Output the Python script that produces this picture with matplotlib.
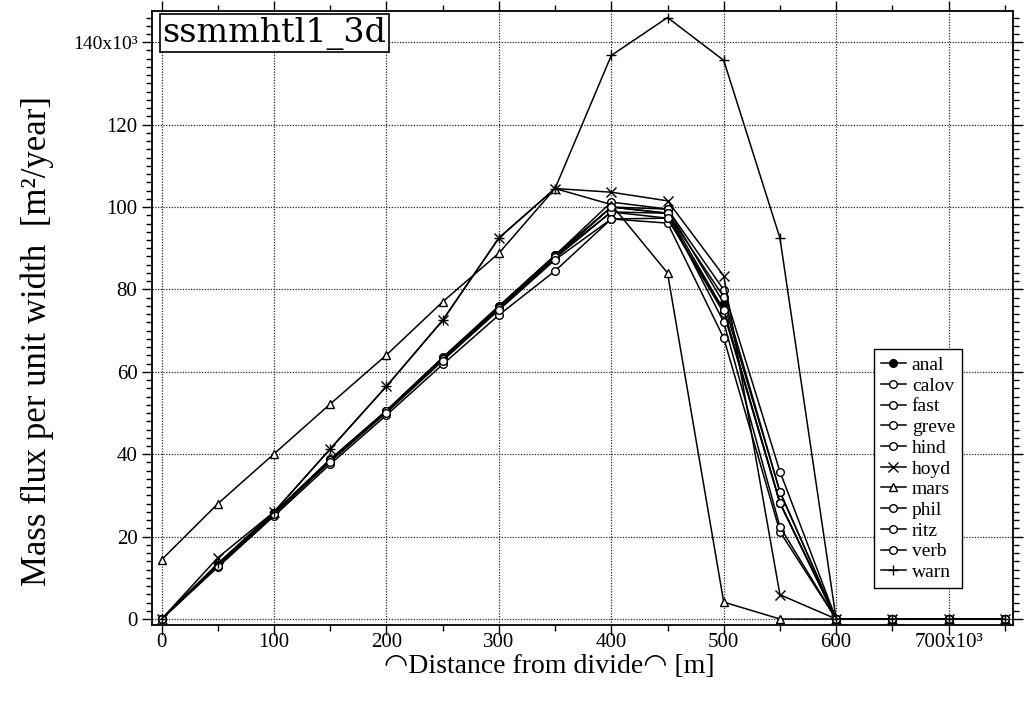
import matplotlib
matplotlib.use("Agg")
import matplotlib.pyplot as plt
from matplotlib.ticker import MultipleLocator

plt.rcParams['font.family'] = ['Liberation Serif', 'DejaVu Sans']

# distance from divide, in units of 10^3 m
distance = [0, 50, 100, 150, 200, 250, 300, 350, 400, 450, 500, 550, 600, 650, 700, 750]

# mass flux per unit width, in units of 10^3 m^2/year
anal  = [0, 13.2, 25.8, 38.7, 50.6, 63.4, 75.8, 88.3, 100.0, 99.5, 76.7, 30.9, 0, 0, 0, 0]
calov = [0, 13.0, 25.6, 38.5, 50.4, 63.2, 75.5, 88.0, 98.8, 98.5, 75.0, 28.2, 0, 0, 0, 0]
fast  = [0, 13.2, 25.8, 38.8, 50.6, 63.5, 76.0, 88.3, 101.2, 99.5, 79.9, 35.8, 0, 0, 0, 0]
greve = [0, 13.1, 25.7, 38.6, 50.5, 63.3, 75.7, 88.1, 100.0, 98.5, 78.2, 30.9, 0, 0, 0, 0]
hind  = [0, 12.6, 25.0, 37.6, 49.5, 61.8, 73.8, 84.5, 97.1, 96.1, 68.2, 21.2, 0, 0, 0, 0]
hoyd  = [0, 14.9, 26.0, 41.3, 56.5, 72.5, 92.5, 104.5, 103.6, 101.5, 83.3, 5.9, 0, 0, 0, 0]
mars  = [14.4, 28.0, 40.1, 52.2, 64.1, 77.0, 88.8, 104.5, 100.6, 84.0, 4.1, 0, 0, 0, 0, 0]
phil  = [0, 13.0, 25.6, 38.4, 50.3, 63.0, 75.3, 87.6, 98.8, 97.3, 74.3, 28.2, 0, 0, 0, 0]
ritz  = [0, 13.1, 25.7, 38.6, 50.5, 63.2, 75.6, 87.9, 100.0, 98.5, 72.1, 22.4, 0, 0, 0, 0]
verb  = [0, 12.9, 25.4, 38.2, 50.1, 62.7, 75.0, 87.2, 97.1, 97.3, 75.0, 28.2, 0, 0, 0, 0]
warn  = [0, 13.5, 26.0, 41.3, 56.5, 72.5, 92.5, 104.5, 136.8, 146.0, 135.6, 92.5, 0, 0, 0, 0]

x_ticks = [0, 100, 200, 300, 400, 500, 600, 700]
x_labels = ["0", "100", "200", "300", "400", "500", "600", "700x10\u00b3"]
y_ticks = [0, 20, 40, 60, 80, 100, 120, 140]
y_labels = ["0", "20", "40", "60", "80", "100", "120", "140x10\u00b3"]

series = [
    ("anal", anal, "o", "black"),
    ("calov", calov, "o", "white"),
    ("fast", fast, "o", "white"),
    ("greve", greve, "o", "white"),
    ("hind", hind, "o", "white"),
    ("hoyd", hoyd, "x", "white"),
    ("mars", mars, "^", "white"),
    ("phil", phil, "o", "white"),
    ("ritz", ritz, "o", "white"),
    ("verb", verb, "o", "white"),
    ("warn", warn, "+", "white"),
]

fig = plt.figure(figsize=(10.27, 7.02), dpi=100)
ax = fig.add_axes([0.148, 0.110, 0.838, 0.875])

for name, vals, mk, fc in series:
    ms = 7 if mk in ("x", "+") else 5.5
    ax.plot(distance, vals, color="black", lw=1.1, marker=mk, ms=ms,
            mfc=fc, mec="black", mew=1.0, label=name)

ax.set_xlim(-8.6, 757)
ax.set_ylim(-1.4, 147.7)

ax.set_xticks(x_ticks)
ax.set_xticklabels(x_labels, fontsize=15)
ax.set_yticks(y_ticks)
ax.set_yticklabels(y_labels, fontsize=15)
ax.get_yticklabels()[-1].set_fontsize(14)
ax.xaxis.set_minor_locator(MultipleLocator(50))
ax.yaxis.set_minor_locator(MultipleLocator(2))
ax.tick_params(which="both", direction="out", top=True, right=True,
               labeltop=False, labelright=False, width=1.0)
ax.tick_params(which="major", length=7)
ax.tick_params(which="minor", length=4.5)
ax.tick_params(axis="x", which="major", pad=-1)

ax.grid(True, which="major", color="0.15", lw=0.9, ls=(0, (1, 1.2)))
for sp in ax.spines.values():
    sp.set_linewidth(1.3)

ax.set_xlabel("\u25e0Distance from divide\u25e0 [m]", fontsize=20)
ax.xaxis.set_label_coords(0.462, -0.048)
ax.set_ylabel("Mass flux per unit width  [m\u00b2/year]", fontsize=25)
ax.yaxis.set_label_coords(-0.114, 0.462)

ax.text(0.012, 0.99, "ssmmhtl1_3d", transform=ax.transAxes, fontsize=24,
        family="DejaVu Serif", va="top", ha="left",
        bbox=dict(boxstyle="square,pad=0.08", fc="white", ec="black", lw=1.2))

leg = ax.legend(loc="lower right", bbox_to_anchor=(0.941, 0.060),
                borderaxespad=0, fontsize=14, handlelength=1.3,
                handletextpad=0.3, labelspacing=0.16, borderpad=0.35,
                frameon=True, fancybox=False, edgecolor="black", framealpha=1)
leg.get_frame().set_linewidth(1.0)

fig.savefig("out.png", dpi=100)
